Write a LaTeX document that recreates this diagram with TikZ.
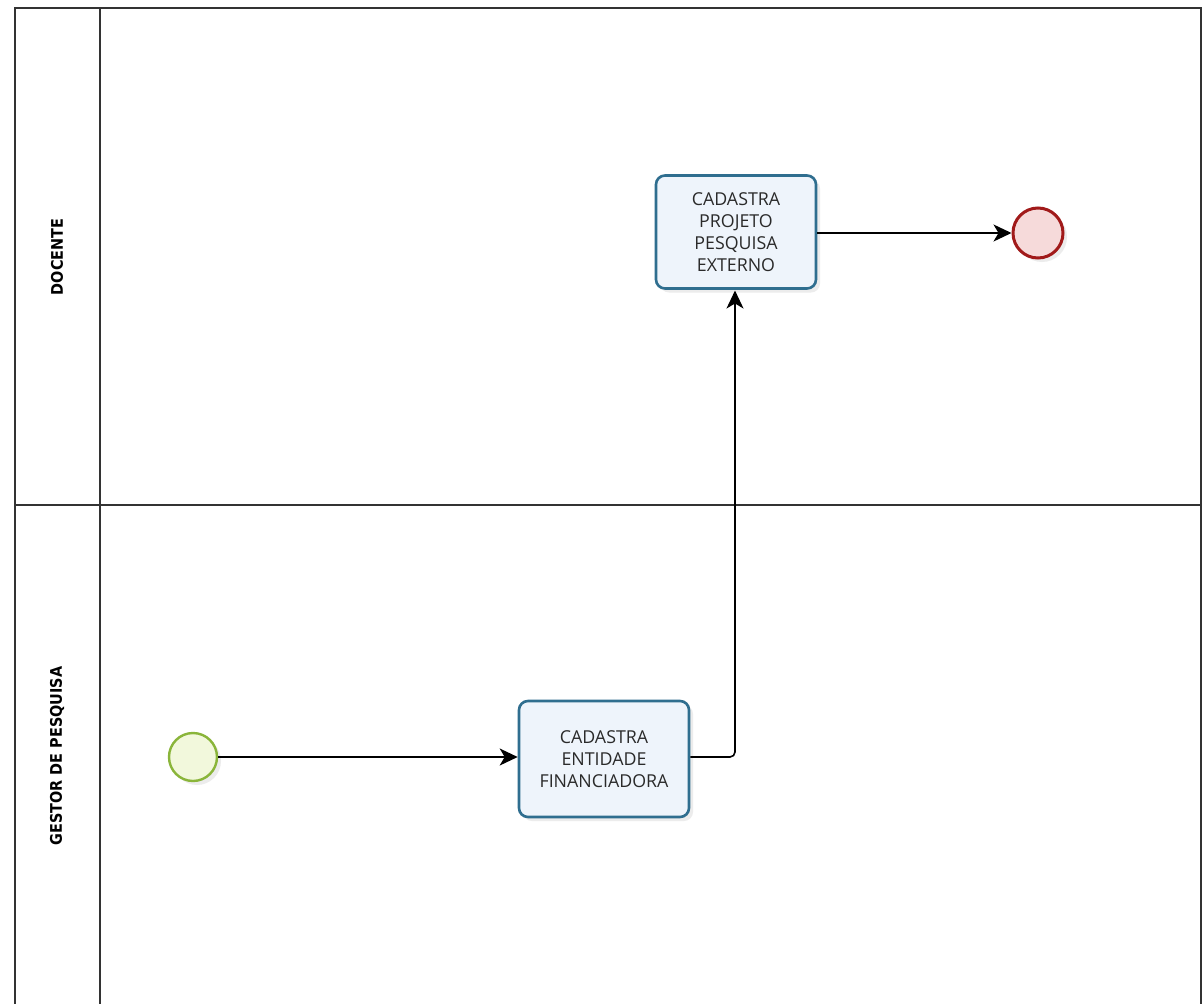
\documentclass[tikz,border=0pt]{standalone}
\usepackage{fontspec}
\setmainfont{Open Sans}
\newfontfamily\lanefont{DejaVu Sans Condensed}
\usetikzlibrary{arrows.meta,shadows}
\definecolor{taskborder}{HTML}{2F6E8F}
\definecolor{taskfill}{HTML}{EEF4FB}
\definecolor{endborder}{HTML}{A11A1A}
\definecolor{endfill}{HTML}{F6DADA}
\definecolor{startborder}{HTML}{8AB53A}
\definecolor{startfill}{HTML}{F2F8DC}
\definecolor{txt}{HTML}{2A2A2A}
\tikzset{
  lane/.style={draw=black!80, line width=1.2pt},
  task/.style={draw=taskborder, line width=2.6pt, rounded corners=9pt, fill=taskfill,
    minimum width=160pt, minimum height=113pt, align=center, text=txt,
    font=\fontsize{17.8}{22}\selectfont, inner sep=2pt,
    drop shadow={shadow xshift=4pt, shadow yshift=-4pt, opacity=0.15}},
  startev/.style={circle, draw=startborder, line width=2.4pt, fill=startfill, minimum size=48pt,
    drop shadow={shadow xshift=4pt, shadow yshift=-4pt, opacity=0.15}},
  endev/.style={circle, draw=endborder, line width=3pt, fill=endfill, minimum size=50pt,
    drop shadow={shadow xshift=4pt, shadow yshift=-4pt, opacity=0.15}},
  flow/.style={draw=black, line width=1.6pt, -{Stealth[length=18pt,width=17pt,inset=5pt]}},
  lanelabel/.style={rotate=90, font=\lanefont\bfseries\fontsize{16}{18}\selectfont, text=black}
}
\begin{document}
\begin{tikzpicture}[x=1pt,y=-1pt]
\useasboundingbox[fill=white] (0,0) rectangle (1203,1004);
% pool and lanes
\draw[lane] (15,1010) -- (15,8) -- (1201,8) -- (1201,1010);
\draw[lane] (100,8) -- (100,1010);
\draw[lane] (15,505) -- (1201,505);
\node[lanelabel] (l1) at (57,257) {DOCENTE};
\node[lanelabel] (l2) at (57,756) {GESTOR DE PESQUISA};
% nodes
\node[task] (t1) at (736,232) {CADASTRA\\PROJETO\\PESQUISA\\EXTERNO};
\node[task, minimum width=170pt, minimum height=116pt] (t2) at (604,759) {CADASTRA\\ENTIDADE\\FINANCIADORA};
\node[startev] (s) at (193,757) {};
\node[endev] (e) at (1038,233) {};
% flows
\draw[flow] (s.east) -- (s.east -| t2.west);
\draw[flow, rounded corners=5pt] (t2.east |- 0,757) -- (735,757) -- (735,290.5);
\draw[flow] (t1.east |- 0,233) -- (e.west);
\end{tikzpicture}
\end{document}
